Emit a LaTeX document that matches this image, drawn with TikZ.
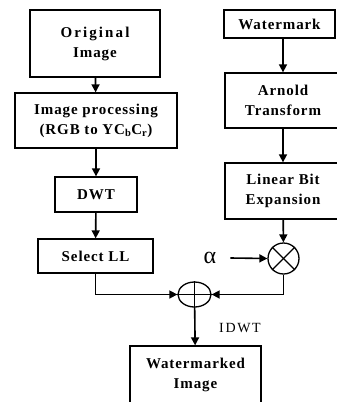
\documentclass[tikz,border=0pt]{standalone}
\usepackage{fontspec}
\setmainfont{Liberation Serif}
\usepackage{tikz}
\usetikzlibrary{arrows.meta,positioning,shapes.geometric}
\newcommand{\boxfont}{\bfseries\addfontfeature{LetterSpace=6}\fontsize{15}{20}\selectfont}
\tikzset{bx/.style={draw, line width=1.3pt, align=center, inner sep=0pt, font=\boxfont}}
\tikzset{ar/.style={draw, line width=1.6pt, -{Triangle[length=8pt,width=8pt]}}}
\tikzset{ln/.style={draw, line width=1.3pt}}

\begin{document}
\begin{tikzpicture}[x=1pt, y=-1pt]
    \useasboundingbox (0,0) rectangle (337,402);
    %%
    \node (orig) at (95,43.5) [bx, minimum width=130pt, minimum height=67pt]
        {\addfontfeature{LetterSpace=14}Original\\Image};
    \node (proc) at (96,120.5) [bx, minimum width=162pt, minimum height=55pt]
        {Image processing\\(RGB to YC\textsubscript{b}C\textsubscript{r})};
    \node (dwt) at (96,194.5) [bx, minimum width=82pt, minimum height=35pt] {DWT};
    \node (sel) at (95.5,256) [bx, minimum width=115pt, minimum height=34pt] {Select LL};
    %%
    \node (wm) at (279.5,24) [bx, minimum width=111pt, minimum height=28pt] {Watermark};
    \node (arn) at (283,100.5) [bx, minimum width=116pt, minimum height=55pt] {Arnold\\Transform};
    \node (lbe) at (283,191) [bx, minimum width=116pt, minimum height=56pt] {Linear Bit\\Expansion};
    \node (tm) at (283.5,258.5) [circle, ln, minimum size=31pt, inner sep=0pt] {};
    \node (al) at (210,258) [inner sep=0pt] {\fontsize{24}{24}\selectfont α};
    %%
    \node (pl) at (194.5,294.5) [ellipse, ln, minimum width=33pt, minimum height=25pt, inner sep=0pt] {};
    \node (idwt) at (240,328) {\addfontfeature{LetterSpace=12}\fontsize{14}{16}\selectfont IDWT};
    \node (out) at (195.5,375) [bx, minimum width=131pt, minimum height=58pt] {Watermarked\\Image};
    %%
    \draw [ln] (tm.north west) -- (tm.south east);
    \draw [ln] (tm.north east) -- (tm.south west);
    \draw [ln] (pl.north) -- (pl.south);
    \draw [ln] (pl.west) -- (pl.east);
    %%
    \draw [ar] (orig) -- (proc);
    \draw [ar] (proc) -- (dwt);
    \draw [ar] (dwt) -- (sel);
    \draw [ar] (sel.south) |- (pl.west);
    \draw [ar] (wm.south -| arn) -- (arn);
    \draw [ar] (arn) -- (lbe);
    \draw [ar] (lbe) -- (tm);
    \draw [ar] ([xshift=14pt]al.east) -- (tm.west);
    \draw [ar] (tm.south) |- (pl.east);
    \draw [ar] (pl) -- (out);
\end{tikzpicture}
\end{document}
